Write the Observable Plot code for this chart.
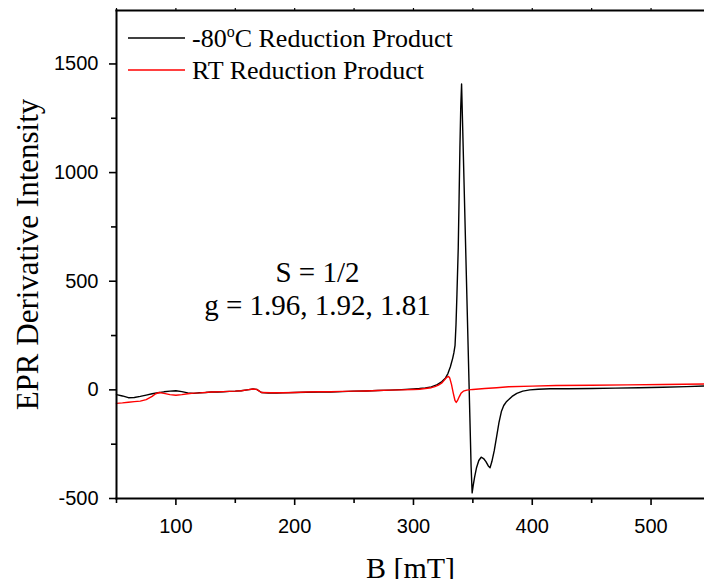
<!DOCTYPE html>
<html>
<head>
<meta charset="utf-8">
<script src="https://cdn.jsdelivr.net/npm/d3@7"></script>
<script src="https://cdn.jsdelivr.net/npm/@observablehq/plot@0.6"></script>
<style>
  html, body { margin: 0; padding: 0; background: #fff; overflow: hidden; }
  svg { display: block; }
</style>
</head>
<body>
<div id="chart"></div>
<script>
// ---- Data ----
const seriesNames = ["-80°C Reduction Product", "RT Reduction Product"];
const seriesColors = ["#000000", "#ff0000"];

// -80 °C reduction product (black)
const fieldLow = [50, 55, 60, 65, 70, 75, 80, 85, 90, 95, 100, 105, 110, 115, 120, 125, 130, 135, 140, 145,
  150, 155, 160, 165, 168, 172, 178, 185, 190, 200, 210, 220, 230, 240, 250, 260, 270, 280, 290, 300,
  305, 310, 315, 320, 324, 327, 329, 331, 333, 334, 335, 335.8, 336.6, 337.7, 338.4, 339.1, 339.8, 340.5,
  341.5, 342.5, 343.5, 344.5, 345.5, 346.5, 347.5, 348.5, 349.4, 350.3, 351.5, 353, 355, 357, 359, 361,
  363, 364.5, 366, 368, 370, 372, 374, 376, 378, 380, 383, 387, 392, 398, 405, 415, 430, 450, 470, 490,
  510, 530, 545];
const intensityLow = [-22, -28, -36, -35, -30, -24, -18, -13, -9, -6, -4, -8, -14, -16, -13, -12, -10, -10, -9, -7,
  -6, -4, 0, 4, 2, -12, -15, -15, -14, -12, -11, -10, -10, -8, -6, -5, -3, -1, 1, 4,
  6, 9, 14, 24, 38, 55, 75, 105, 145, 170, 205, 300, 440, 654, 880, 1114, 1300, 1408,
  1190, 970, 750, 530, 310, 90, -130, -350, -474, -440, -400, -360, -325, -310, -316, -330,
  -350, -358, -330, -280, -215, -150, -100, -72, -56, -46, -30, -16, -6, 0, 3, 5, 5, 6, 8, 10,
  12, 15, 18];

// RT reduction product (red)
const fieldRT = [50, 55, 60, 65, 70, 75, 80, 83, 86, 90, 95, 100, 105, 110, 115, 120, 130, 140, 150, 155,
  160, 165, 168, 172, 180, 190, 200, 210, 220, 230, 240, 250, 260, 270, 280, 290, 300, 305, 310, 315,
  318, 321, 324, 326, 328, 329.5, 330.5, 332, 333.5, 335, 336, 337, 338.5, 340, 342, 345, 350, 360, 370,
  380, 400, 420, 450, 480, 510, 545];
const intensityRT = [-62, -60, -57, -54, -52, -45, -30, -18, -12, -16, -22, -25, -22, -18, -15, -14, -10, -8, -6, -4,
  0, 4, 2, -12, -13, -13, -12, -10, -9, -9, -7, -6, -5, -3, -1, 0, 2, 3, 6, 10,
  15, 22, 32, 45, 58, 62, 55, 25, -15, -50, -58, -50, -32, -16, -6, -1, 2, 6, 10,
  14, 17, 20, 21, 23, 25, 27];

const xMajorTicks = [100, 200, 300, 400, 500];
const xMinorTicks = [50, 150, 250, 350, 450];
const yMajorTicks = [-500, 0, 500, 1000, 1500];
const yMinorTicks = [-250, 250, 750, 1250];
const xDomain = [50, 545];
const yDomain = [-500, 1746];

const xTitle = "B [mT]";
const yTitle = "EPR Derivative Intensity";
const annotationLines = ["S = 1/2", "g = 1.96, 1.92, 1.81"];

// ---- Build ----
const low = fieldLow.map((b, i) => ({B: b, I: intensityLow[i]}));
const rt = fieldRT.map((b, i) => ({B: b, I: intensityRT[i]}));
const serif = "'Liberation Serif','Times New Roman',Times,serif";
const fmt = d => String(d);

const chart = Plot.plot({
  width: 704,
  height: 579,
  marginLeft: 116,
  marginRight: 0,
  marginTop: 10,
  marginBottom: 81,
  style: {fontFamily: "'Liberation Sans',Arial,sans-serif", fontSize: "20px", background: "#fff", color: "#000", overflow: "visible"},
  x: {domain: xDomain},
  y: {domain: yDomain},
  marks: [
    Plot.line(low, {x: "B", y: "I", stroke: seriesColors[0], strokeWidth: 1.4}),
    Plot.line(rt, {x: "B", y: "I", stroke: seriesColors[1], strokeWidth: 1.4}),
    Plot.axisX({ticks: xMajorTicks, tickSize: 7, tickPadding: 13, tickFormat: fmt, label: null, strokeWidth: 1.6, fontSize: 20}),
    Plot.axisX({ticks: xMinorTicks, tickSize: 5, tickFormat: () => "", label: null, strokeWidth: 1.6}),
    Plot.axisX({anchor: "top", ticks: xMajorTicks.concat(xMinorTicks), tickSize: 3, tickFormat: () => "", label: null, strokeWidth: 1.2}),
    Plot.axisY({ticks: yMajorTicks, tickSize: 7, tickPadding: 11, tickFormat: fmt, label: null, strokeWidth: 1.6, fontSize: 20}),
    Plot.axisY({ticks: yMinorTicks, tickSize: 5, tickFormat: () => "", label: null, strokeWidth: 1.6}),
    Plot.frame({anchor: "left", strokeWidth: 2}),
    Plot.frame({anchor: "bottom", strokeWidth: 2}),
    Plot.frame({anchor: "top", strokeWidth: 2}),
    Plot.text([annotationLines.join("\n")], {frameAnchor: "top-left", dx: 201, dy: 248, lineAnchor: "top",
      textAnchor: "middle", fontSize: 29, lineHeight: 33 / 29, fontFamily: serif, fill: "#000"}),
    Plot.text([yTitle], {frameAnchor: "left", dx: -88, rotate: -90, textAnchor: "middle", lineAnchor: "middle",
      fontSize: 31, fontFamily: serif, fill: "#000"}),
    Plot.text([xTitle], {frameAnchor: "bottom", dy: 58, textAnchor: "middle", lineAnchor: "top", fontSize: 30, fontFamily: serif, fill: "#000"})
  ]
});

// ---- Legend (inside plot, top-left) ----
const svg = d3.select(chart);
const legend = svg.append("g").attr("font-family", serif).attr("font-size", 26).attr("fill", "#000")
  .attr("text-anchor", "start");
const rowY = [38, 70];
seriesNames.forEach((name, i) => {
  legend.append("line").attr("x1", 128).attr("x2", 185).attr("y1", rowY[i]).attr("y2", rowY[i])
    .attr("stroke", seriesColors[i]).attr("stroke-width", 1.3);
  const t = legend.append("text").attr("x", 192).attr("y", rowY[i] + 9).attr("text-anchor", "start");
  const parts = name.split("°");
  if (parts.length === 2) {
    t.append("tspan").text(parts[0]);
    t.append("tspan").attr("dy", -10).attr("font-size", 16).text("o");
    t.append("tspan").attr("dy", 10).text(parts[1]);
  } else {
    t.text(name);
  }
});

document.getElementById("chart").append(chart);
</script>
</body>
</html>
